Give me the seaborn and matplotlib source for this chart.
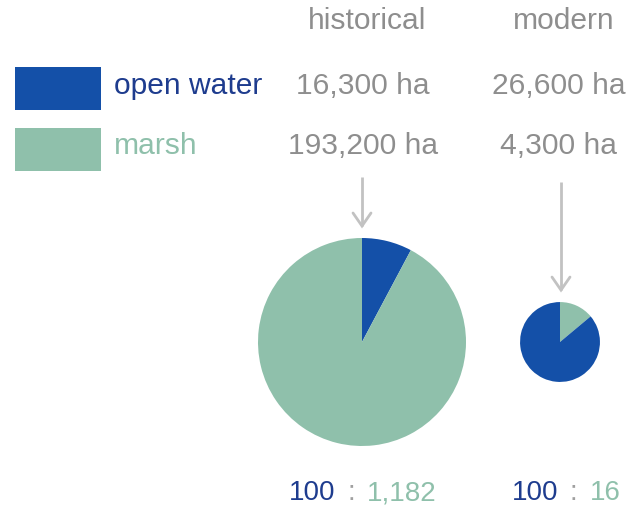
import numpy as np
import matplotlib
matplotlib.use("Agg")
import matplotlib.pyplot as plt
from matplotlib.patches import Rectangle
import seaborn as sns

# ---- data ----
categories = ["open water", "marsh"]
periods = ["historical", "modern"]
historical_ha = [16300, 193200]
modern_ha = [26600, 4300]
ratio_open = ["100", "100"]
ratio_marsh = ["1,182", "16"]

# ---- style ----
sns.set_theme(style="white")
plt.rcParams["font.family"] = ["Liberation Sans", "DejaVu Sans"]

pal = sns.color_palette(["#1450a8", "#8fc0ab"])
label_colors = ["#1e3c8e", "#8fc0ab"]
grey = "#8e8e8e"
arrow_grey = "#c2c2c2"

W, H = 635, 512
fig = plt.figure(figsize=(W / 100, H / 100), dpi=100)
ax = fig.add_axes([0, 0, 1, 1])

def Y(p):
    return H - p

col_x = [362, 560]
header_x = [367, 564]
value_x = [363, 559]
pie_cy = 342
R_MAX = 104
hdr_fs = 21.6
ratio_fs = 20

series = [historical_ha, modern_ha]
totals = [sum(s) for s in series]
max_total = max(totals)

# headers
for x, name in zip(header_x, periods):
    ax.text(x, Y(29), name, ha="center", va="baseline", fontsize=hdr_fs, color=grey)

# legend swatches and labels
row_base = [94, 154]
swatch_top = [67, 128]
for i, cat in enumerate(categories):
    ax.add_patch(Rectangle((15, Y(swatch_top[i] + 43)), 86, 43,
                           facecolor=pal[i], edgecolor="none"))
    ax.text(114, Y(row_base[i]), cat, ha="left", va="baseline",
            fontsize=hdr_fs, color=label_colors[i])
    for j, s in enumerate(series):
        ax.text(value_x[j], Y(row_base[i]), f"{s[i]:,} ha", ha="center",
                va="baseline", fontsize=hdr_fs, color=grey)

# pies (area proportional to total)
radii = []
for j, s in enumerate(series):
    r = R_MAX * np.sqrt(totals[j] / max_total)
    radii.append(r)
    order = np.argsort(s)
    ax.pie([s[k] for k in order], colors=[pal[k] for k in order],
           center=(col_x[j], Y(pie_cy)), radius=r, startangle=90,
           counterclock=False, wedgeprops=dict(linewidth=0), frame=True)

# arrows
arrow_top = [177, 182]
for j in range(2):
    x = col_x[j] + (0 if j == 0 else 1)
    tip = pie_cy - radii[j] - 12
    ax.plot([x, x], [Y(arrow_top[j]), Y(tip)], color=arrow_grey, lw=2,
            solid_capstyle="butt")
    ax.plot([x - 9, x, x + 9], [Y(tip - 13), Y(tip), Y(tip - 13)],
            color=arrow_grey, lw=2, solid_joinstyle="miter")

# ratio labels
ratio_base = 500
gap = 12
texts = []
for j in range(2):
    t1 = ax.text(0, Y(ratio_base), ratio_open[j], ha="left", va="baseline",
                 fontsize=ratio_fs, color=label_colors[0])
    t2 = ax.text(0, Y(ratio_base), ":", ha="left", va="baseline",
                 fontsize=ratio_fs, color="#a0a0a0")
    t3 = ax.text(0, Y(ratio_base), ratio_marsh[j], ha="left", va="baseline",
                 fontsize=ratio_fs, color=label_colors[1])
    texts.append((t1, t2, t3))

ax.set_xlim(0, W)
ax.set_ylim(0, H)
ax.set_aspect("equal")
ax.axis("off")

fig.canvas.draw()
r = fig.canvas.get_renderer()
centers = [363, 566]
for j, (t1, t2, t3) in enumerate(texts):
    w1 = t1.get_window_extent(r).width
    w2 = t2.get_window_extent(r).width
    w3 = t3.get_window_extent(r).width
    total = w1 + w2 + w3 + 2 * gap
    x0 = centers[j] - total / 2
    t1.set_x(x0)
    t2.set_x(x0 + w1 + gap)
    t3.set_x(x0 + w1 + gap + w2 + gap)

fig.savefig("out.png", dpi=100, facecolor="white")
